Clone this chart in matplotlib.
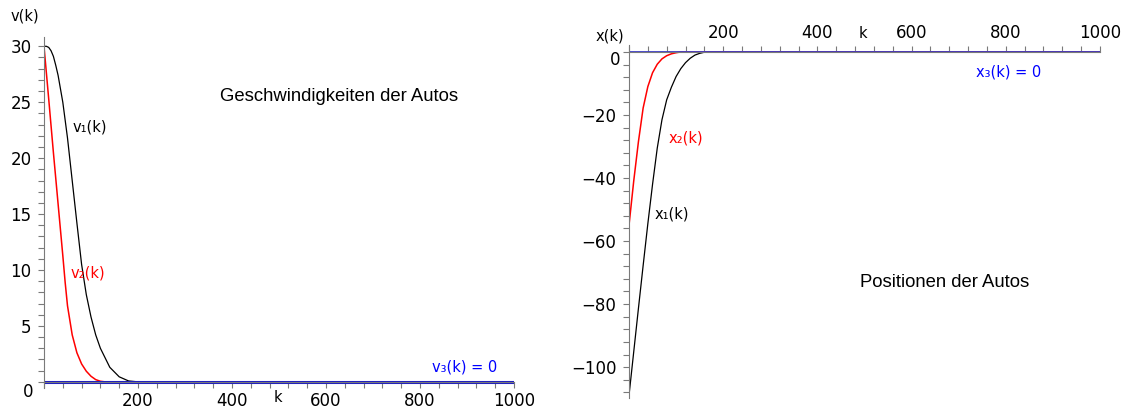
import numpy as np
import matplotlib
matplotlib.use("Agg")
import matplotlib.pyplot as plt
from matplotlib.ticker import MultipleLocator

# Geschwindigkeiten
k_v1 = [0, 5, 10, 15, 20, 25, 30, 40, 50, 60, 70, 80, 90, 100, 110, 120, 140, 160, 180, 200, 1000]
v1 = [30, 30, 29.9, 29.6, 29.1, 28.3, 27.4, 25.0, 21.8, 18.0, 14.2, 10.5, 7.8, 5.8, 4.2, 3.0, 1.3, 0.45, 0.08, 0, 0]
k_v2 = [0, 10, 20, 30, 40, 45, 50, 60, 70, 80, 90, 100, 110, 120, 130, 1000]
v2 = [30, 25.3, 20.5, 15.9, 11.3, 8.9, 6.8, 4.2, 2.6, 1.6, 0.95, 0.5, 0.2, 0.05, 0, 0]
k_v3 = [0, 1000]
v3 = [0, 0]

# Positionen
k_x1 = [0, 10, 20, 30, 40, 50, 60, 70, 80, 90, 100, 110, 120, 130, 140, 150, 160, 170, 1000]
x1 = [-109, -95.2, -81.4, -67.8, -54.5, -42, -30.5, -21.5, -15.2, -11.2, -7.8, -5.3, -3.4, -2.0, -1.0, -0.45, -0.1, 0, 0]
k_x2 = [0, 10, 20, 30, 40, 50, 60, 70, 80, 90, 100, 110, 1000]
x2 = [-55, -41, -28.5, -17.8, -11.0, -6.6, -3.9, -2.2, -1.2, -0.6, -0.25, 0, 0]
k_x3 = [0, 1000]
x3 = [0, 0]

v_ticks = [5, 10, 15, 20, 25, 30]
x_ticks = [-100, -80, -60, -40, -20]
k_ticks = [200, 400, 600, 800, 1000]

blue = "#1c1cc0"
grey = "#7a7a7a"

fig = plt.figure(figsize=(11.23, 4.09), dpi=100)

def style(ax, ymajor, yminor):
    ax.xaxis.set_major_locator(MultipleLocator(200))
    ax.xaxis.set_minor_locator(MultipleLocator(40))
    ax.yaxis.set_major_locator(MultipleLocator(ymajor))
    ax.yaxis.set_minor_locator(MultipleLocator(yminor))
    ax.tick_params(which="both", colors=grey, labelcolor="black", labelsize=12,
                   length=4, width=0.8)
    ax.tick_params(axis="y", pad=5)
    ax.tick_params(axis="x", pad=3)
    ax.set_xlim(0, 1000)
    for s in ax.spines.values():
        s.set_color(grey)
        s.set_linewidth(0.8)

# linkes Diagramm: Geschwindigkeiten
ax1 = fig.add_axes([44 / 1123, 1 - 388 / 409, 470 / 1123, (388 - 37) / 409])
ax1.plot(k_v1, v1, color="black", lw=0.9)
ax1.plot(k_v2, v2, color="red", lw=1.1)
ax1.plot(k_v3, v3, color=blue, lw=2.2)
style(ax1, 5, 1)
ax1.set_ylim(-0.55, 30.83)
ax1.spines["right"].set_visible(False)
ax1.spines["top"].set_visible(False)
ax1.spines["bottom"].set_position(("data", 0))
ax1.set_yticks(v_ticks)
ax1.set_xticks(k_ticks)
ax1.text(-23, -0.9, "0", fontsize=12, ha="right", va="center")
ax1.text(-40, 32.7, "v(k)", fontsize=10.5, ha="center", va="center")
ax1.text(498, -1.4, "k", fontsize=10.5, ha="center", va="center")
ax1.text(60, 22.8, "v\u2081(k)", fontsize=10.5, ha="left", va="center")
ax1.text(56, 9.7, "v\u2082(k)", fontsize=10.5, color="red", ha="left", va="center")
ax1.text(964, 1.35, "v\u2083(k) = 0", fontsize=10.5, color="blue", ha="right", va="center")
ax1.text(628, 25.5, "Geschwindigkeiten der Autos", fontsize=13.3,
         family="Liberation Sans", ha="center", va="center")

# rechtes Diagramm: Positionen
ax2 = fig.add_axes([629 / 1123, 1 - 398 / 409, 471 / 1123, (398 - 45) / 409])
ax2.plot(k_x1, x1, color="black", lw=0.9)
ax2.plot(k_x2, x2, color="red", lw=1.1)
ax2.plot(k_x3, x3, color="#3c3cc8", lw=1.3)
style(ax2, 20, 4)
ax2.set_ylim(-109.8, 2.2)
ax2.spines["right"].set_visible(False)
ax2.spines["bottom"].set_visible(False)
ax2.spines["top"].set_position(("data", 0))
ax2.xaxis.set_ticks_position("top")
ax2.set_yticks(x_ticks)
ax2.set_xticks(k_ticks)
ax2.text(-19, -2.6, "0", fontsize=12, ha="right", va="center")
ax2.text(-40, 5.1, "x(k)", fontsize=10.5, ha="center", va="center")
ax2.text(497, 6.0, "k", fontsize=10.5, ha="center", va="center")
ax2.text(85, -27.3, "x\u2082(k)", fontsize=10.5, color="red", ha="left", va="center")
ax2.text(55, -51.4, "x\u2081(k)", fontsize=10.5, ha="left", va="center")
ax2.text(806, -6.3, "x\u2083(k) = 0", fontsize=10.5, color="blue", ha="center", va="center")
ax2.text(670, -73.3, "Positionen der Autos", fontsize=13.3,
         family="Liberation Sans", ha="center", va="center")

fig.savefig("out.png", dpi=100)
